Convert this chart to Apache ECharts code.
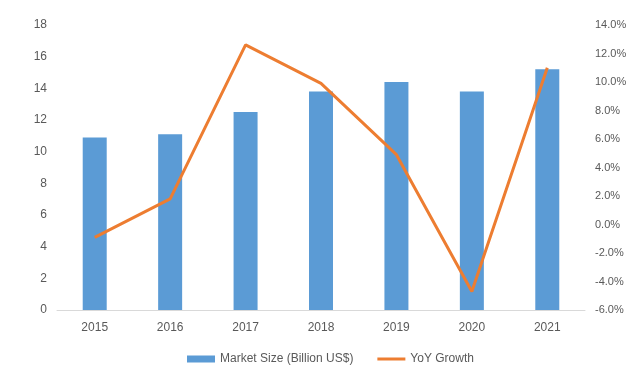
<!DOCTYPE html>
<html>
<head>
<meta charset="utf-8">
<script src="https://cdn.jsdelivr.net/npm/echarts@6/dist/echarts.min.js"></script>
<style>
  html, body { margin: 0; padding: 0; background: #fff; }
  #main { width: 627px; height: 382px; }
</style>
</head>
<body>
<div id="main"></div>
<script>
// data
var years = ['2015', '2016', '2017', '2018', '2019', '2020', '2021'];
var marketSize = [10.9, 11.1, 12.5, 13.8, 14.4, 13.8, 15.2];
var yoyGrowth = [-0.9, 1.8, 12.6, 9.9, 4.9, -4.7, 11.0];

var labelColor = '#595959';
var font = 'Liberation Sans, Arial, sans-serif';

var myChart = echarts.init(document.getElementById('main'));
myChart.setOption({
  backgroundColor: '#fff',
  animation: false,
  textStyle: { fontFamily: font },
  grid: { left: 57, right: 42, top: 25, bottom: 72, outerBoundsMode: 'none', containLabel: false },
  legend: {
    left: 182,
    bottom: 12,
    itemGap: 24,
    itemWidth: 28,
    itemHeight: 7,
    symbolKeepAspect: true,
    textStyle: { color: labelColor, fontSize: 12, fontFamily: font },
    data: [
      { name: 'Market Size (Billion US$)', icon: 'rect' },
      { name: 'YoY Growth', icon: 'path://M0,0 L28,0 L28,3 L0,3 Z' }
    ]
  },
  xAxis: {
    type: 'category',
    data: years,
    axisTick: { show: false },
    axisLine: { lineStyle: { color: '#d9d9d9', width: 1 } },
    axisLabel: { color: labelColor, fontSize: 12, margin: 12 }
  },
  yAxis: [
    {
      type: 'value',
      min: 0, max: 18, interval: 2,
      splitLine: { show: false },
      axisLine: { show: false },
      axisTick: { show: false },
      axisLabel: { color: labelColor, fontSize: 12, margin: 10 }
    },
    {
      type: 'value',
      min: -6, max: 14, interval: 2,
      splitLine: { show: false },
      axisLine: { show: false },
      axisTick: { show: false },
      axisLabel: {
        color: labelColor, fontSize: 11, margin: 10,
        formatter: function (v) { return v.toFixed(1) + '%'; }
      }
    }
  ],
  series: [
    {
      name: 'Market Size (Billion US$)',
      type: 'bar',
      data: marketSize,
      barWidth: 24,
      itemStyle: { color: '#5b9bd5' }
    },
    {
      name: 'YoY Growth',
      type: 'line',
      yAxisIndex: 1,
      data: yoyGrowth,
      symbol: 'none',
      lineStyle: { color: '#ed7d31', width: 3 },
      itemStyle: { color: '#ed7d31' }
    }
  ]
});
</script>
</body>
</html>
